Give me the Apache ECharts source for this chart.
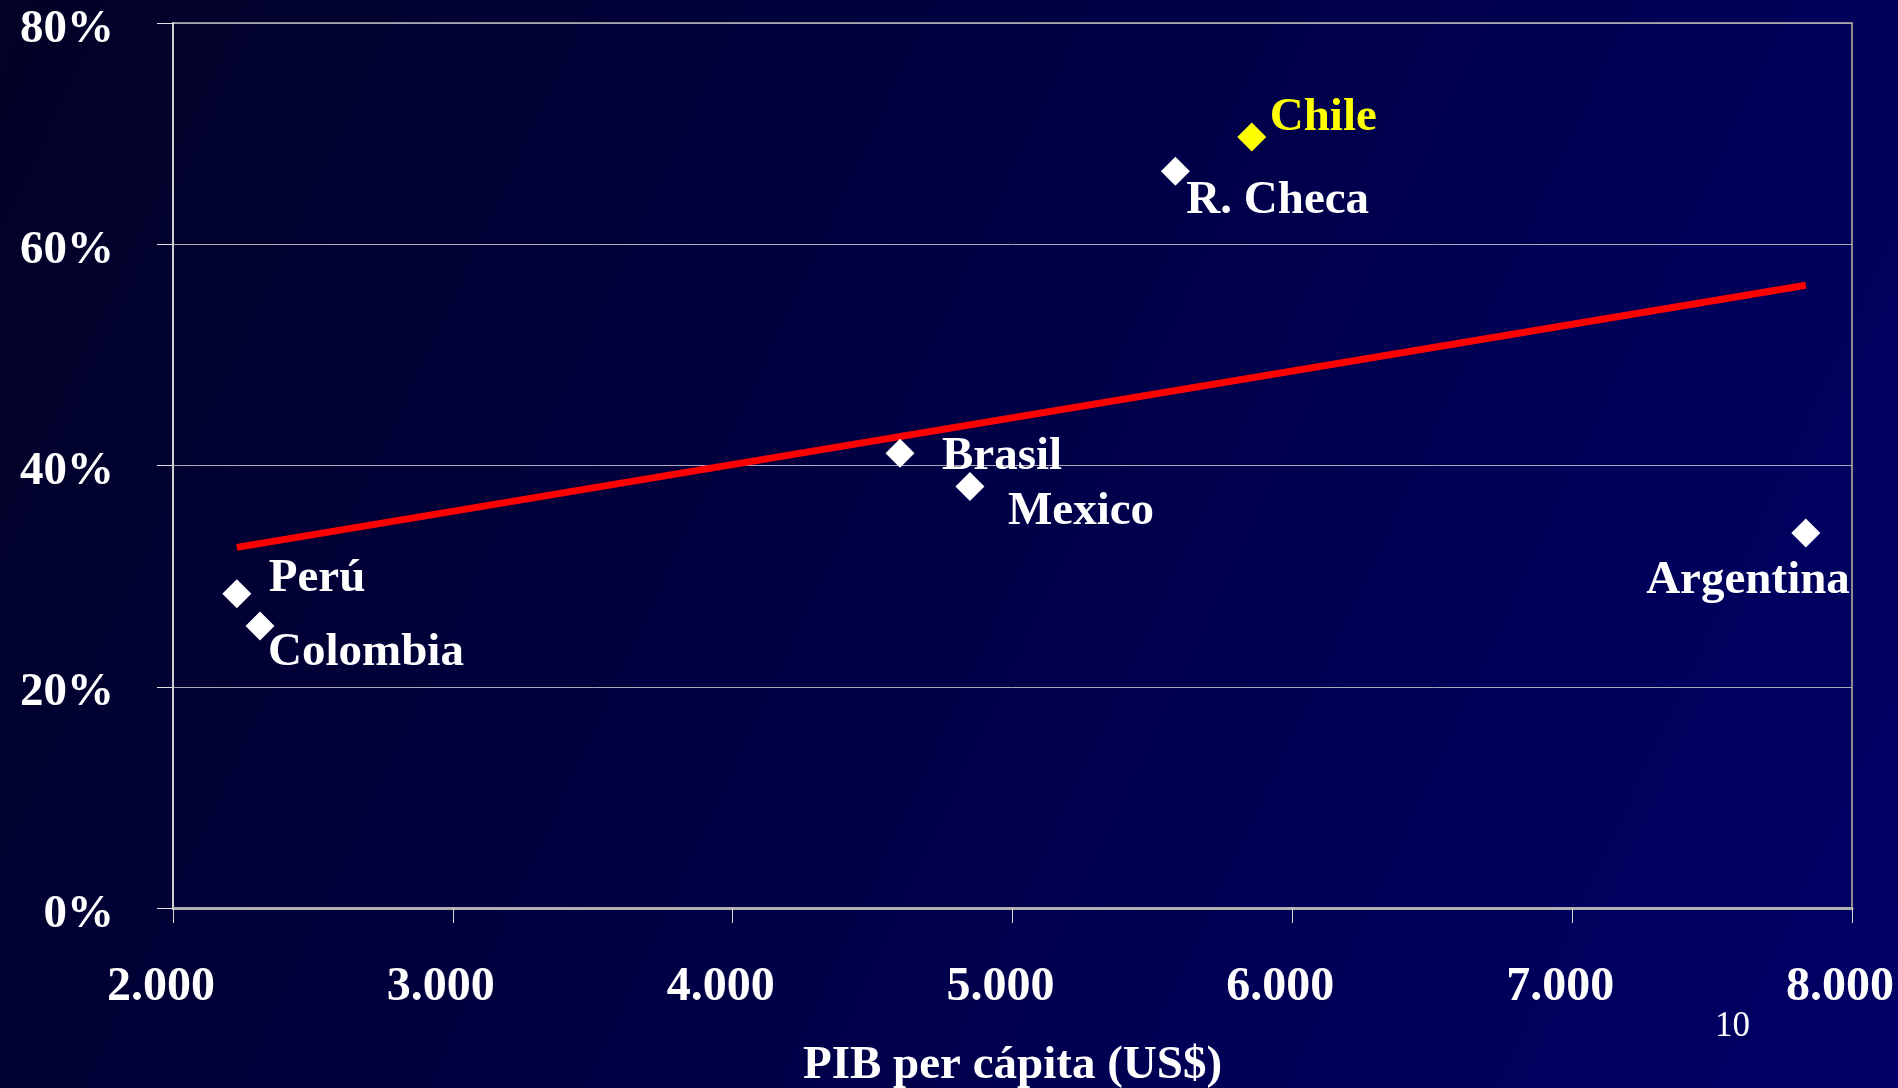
<!DOCTYPE html>
<html>
<head>
<meta charset="utf-8">
<script src="https://cdn.jsdelivr.net/npm/echarts@6/dist/echarts.min.js"></script>
<style>
  html, body { margin: 0; padding: 0; }
  #chart {
    width: 1898px; height: 1088px;
    background: linear-gradient(115deg, #020226 0%, #000040 40%, #000058 75%, #000066 100%);
  }
</style>
</head>
<body>
<div id="chart"></div>
<script>
// ---- data ----
const countries = ['Chile', 'R. Checa', 'Brasil', 'Mexico', 'Argentina', 'Perú', 'Colombia'];
const gdpPerCapita = [5855, 5582, 4598, 4848, 7835, 2228, 2311];   // US$
const shareValues = [69.7, 66.6, 41.1, 38.1, 33.9, 28.4, 25.5];     // %
const trendX = [2228, 7835];
const trendY = [32.6, 56.3];
const xTicks = [2000, 3000, 4000, 5000, 6000, 7000, 8000];
const yTicks = [0, 20, 40, 60, 80];
const xTitle = 'PIB per cápita (US$)';
const slideNumber = '10';

// ---- styling / placement ----
const FONT = '"Times New Roman", "Liberation Serif", serif';
const labelPlacement = {
  'Chile':     { dx: 18, dy: -19, align: 'left' },
  'R. Checa':  { dx: 11, dy: 30, align: 'left' },
  'Brasil':    { dx: 42, dy: 4, align: 'left' },
  'Mexico':    { dx: 38, dy: 25, align: 'left' },
  'Argentina': { dx: 44, dy: 48, align: 'right' },
  'Perú':      { dx: 32, dy: -15, align: 'left' },
  'Colombia':  { dx: 8, dy: 27, align: 'left' }
};
const highlight = { 'Chile': '#ffff00' };

const fmtThousands = v => {
  const s = String(Math.round(v));
  return s.replace(/\B(?=(\d{3})+(?!\d))/g, '.');
};

const scatterData = countries.map((c, i) => {
  const p = labelPlacement[c];
  const col = highlight[c] || '#ffffff';
  return {
    name: c,
    value: [gdpPerCapita[i], shareValues[i]],
    itemStyle: { color: col, opacity: 1 },
    label: {
      show: true,
      position: 'inside',
      align: p.align,
      verticalAlign: 'middle',
      offset: [p.dx, p.dy],
      formatter: '{b}',
      color: col,
      opacity: 1,
      fontFamily: FONT,
      fontWeight: 'bold',
      fontSize: 47
    }
  };
});

const chart = echarts.init(document.getElementById('chart'), null, { renderer: 'canvas' });
chart.setOption({
  backgroundColor: 'transparent',
  animation: false,
  grid: {
    left: 173, right: 46, top: 23, bottom: 180,
    outerBoundsMode: 'none',
    containLabel: false,
    show: true, borderColor: '#8c8c8c', borderWidth: 2, backgroundColor: 'transparent'
  },
  xAxis: {
    type: 'value',
    min: xTicks[0], max: xTicks[xTicks.length - 1], interval: 1000,
    name: xTitle,
    nameLocation: 'middle',
    nameGap: 134,
    nameTextStyle: { color: '#ffffff', fontFamily: FONT, fontWeight: 'bold', fontSize: 47 },
    axisLine: { show: true, onZero: false, lineStyle: { color: '#b0b0b0', width: 3 } },
    axisTick: { show: true, length: 15, lineStyle: { color: '#d8d8d8', width: 1 } },
    splitLine: { show: false },
    axisLabel: {
      color: '#ffffff', fontFamily: FONT, fontWeight: 'bold', fontSize: 48,
      margin: 56, padding: [0, 24, 0, 0],
      formatter: v => fmtThousands(v)
    }
  },
  yAxis: {
    type: 'value',
    min: yTicks[0], max: yTicks[yTicks.length - 1], interval: 20,
    axisLine: { show: true, onZero: false, lineStyle: { color: '#d0d0d0', width: 2 } },
    axisTick: { show: true, length: 16, lineStyle: { color: '#e0e0e0', width: 1 } },
    splitLine: { show: true, lineStyle: { color: '#a8a8b8', width: 1 } },
    axisLabel: {
      color: '#ffffff', fontFamily: FONT, fontWeight: 'bold', fontSize: 47,
      margin: 59, verticalAlign: 'top', lineHeight: 13,
      formatter: '{value}%'
    }
  },
  graphic: [{
    type: 'text',
    left: 1715, top: 1009,
    style: { text: slideNumber, fill: '#ffffff', font: '35px ' + FONT }
  }],
  series: [
    {
      type: 'line',
      data: trendX.map((x, i) => [x, trendY[i]]),
      symbol: 'none',
      lineStyle: { color: '#ff0000', width: 7, opacity: 1 },
      z: 2,
      silent: true
    },
    {
      type: 'scatter',
      symbol: 'diamond',
      symbolSize: 29,
      data: scatterData,
      z: 3
    }
  ]
});
</script>
</body>
</html>
